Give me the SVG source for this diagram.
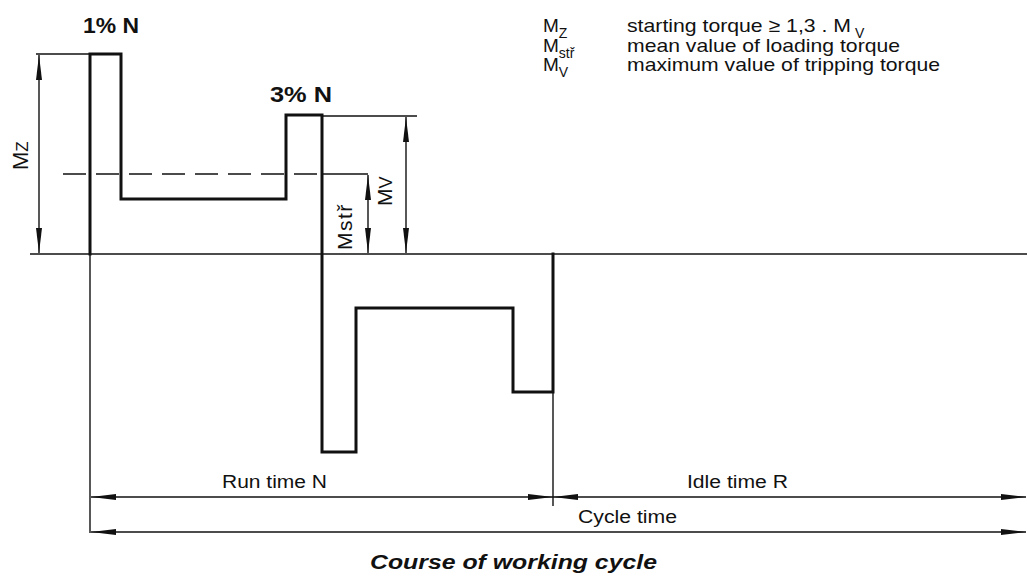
<svg xmlns="http://www.w3.org/2000/svg" width="1027" height="582" viewBox="0 0 1027 582">
  <style>
    .bg { fill: #ffffff; }
    .thick { fill: none; stroke: #111; stroke-width: 3; stroke-linejoin: miter; stroke-linecap: square; }
    .thin { fill: none; stroke: #111; stroke-width: 1.4; }
    .dash { fill: none; stroke: #111; stroke-width: 1.4; stroke-dasharray: 23 10; }
    .dim { fill: none; stroke: #111; stroke-width: 1.4; marker-start: url(#arr); marker-end: url(#arr); }
    .txt { font-family: "Liberation Sans", Arial, Helvetica, sans-serif; fill: #111; }
    .hand { font-family: "Liberation Sans", Arial, Helvetica, sans-serif; fill: #111; }
    .handb { font-family: "Liberation Sans", Arial, Helvetica, sans-serif; font-weight: bold; fill: #111; }
    .cap { font-family: "Liberation Sans", Arial, Helvetica, sans-serif; font-weight: bold; font-style: italic; fill: #111; }
  </style>
  <defs>
    <marker id="arr" markerUnits="userSpaceOnUse" markerWidth="26" markerHeight="8" viewBox="0 0 26 8" refX="25" refY="4" orient="auto-start-reverse">
      <path d="M0,1 L25,4 L0,7 z" fill="#111"/>
    </marker>
  </defs>
  <rect class="bg" x="0" y="0" width="1027" height="582"/>

  <!-- waveform -->
  <g id="waveform">
    <line class="thin" x1="30" y1="254" x2="1027" y2="254"/>
    <path class="thick" d="M90,254 L90,54 L121,54 L121,199 L286,199 L286,115 L322,115 L322,452 L356,452 L356,308 L513,308 L513,392 L553,392 L553,254"/>
    <line class="thin" x1="90" y1="254" x2="90" y2="533"/>
    <line class="thin" x1="553" y1="392" x2="553" y2="506"/>
  </g>

  <!-- connectors: dimension and extension lines -->
  <g id="connectors">
    <line class="thin" x1="36" y1="54" x2="90" y2="54"/>
    <line class="dim" x1="39" y1="55" x2="39" y2="253"/>
    <line class="dash" x1="63" y1="174" x2="322" y2="174"/>
    <line class="thin" x1="322" y1="174" x2="368" y2="174"/>
    <line class="dim" x1="368" y1="175" x2="368" y2="253"/>
    <line class="thin" x1="322" y1="116" x2="417" y2="116"/>
    <line class="dim" x1="406" y1="117" x2="406" y2="253"/>
    <line class="dim" x1="91" y1="497" x2="553" y2="497"/>
    <line class="dim" x1="553" y1="497" x2="1026" y2="497"/>
    <line class="dim" x1="91" y1="532" x2="1026" y2="532"/>
  </g>

  <!-- hand-lettered labels -->
  <g id="label-1pct">
    <text class="handb" x="83" y="33" font-size="22" textLength="56" lengthAdjust="spacingAndGlyphs">1% N</text>
  </g>
  <g id="label-3pct">
    <text class="handb" x="270" y="102" font-size="22" textLength="62" lengthAdjust="spacingAndGlyphs">3% N</text>
  </g>
  <g id="label-mz">
    <text class="hand" transform="translate(28,170) rotate(-90)" font-size="22">M<tspan font-size="17">Z</tspan></text>
  </g>
  <g id="label-mstr">
    <text class="hand" transform="translate(352,250) rotate(-90)" font-size="21" letter-spacing="1.5">Mstř</text>
  </g>
  <g id="label-mv">
    <text class="hand" transform="translate(392,206) rotate(-90)" font-size="21">M<tspan font-size="18">V</tspan></text>
  </g>

  <!-- time labels -->
  <g id="label-run">
    <text class="txt" x="222" y="488" font-size="18" textLength="105" lengthAdjust="spacingAndGlyphs">Run time N</text>
  </g>
  <g id="label-idle">
    <text class="txt" x="687" y="488" font-size="18" textLength="101" lengthAdjust="spacingAndGlyphs">Idle time R</text>
  </g>
  <g id="label-cycle">
    <text class="txt" x="578" y="523" font-size="18" textLength="99" lengthAdjust="spacingAndGlyphs">Cycle time</text>
  </g>

  <!-- legend -->
  <g id="legend">
    <text class="txt" x="543" y="32" font-size="19">M<tspan dy="6" font-size="14">Z</tspan></text>
    <text class="txt" x="627" y="32" font-size="19" textLength="224" lengthAdjust="spacingAndGlyphs">starting torque ≥ 1,3 . M</text>
    <text class="txt" x="855" y="38" font-size="14">V</text>

    <text class="txt" x="543" y="52" font-size="19">M<tspan dy="6" font-size="14">stř</tspan></text>
    <text class="txt" x="627" y="52" font-size="19" textLength="273" lengthAdjust="spacingAndGlyphs">mean value of loading torque</text>

    <text class="txt" x="543" y="71" font-size="19">M<tspan dy="6" font-size="14">V</tspan></text>
    <text class="txt" x="627" y="71" font-size="19" textLength="313" lengthAdjust="spacingAndGlyphs">maximum value of tripping torque</text>
  </g>

  <!-- caption -->
  <g id="caption">
    <text class="cap" x="370" y="569" font-size="20" textLength="287" lengthAdjust="spacingAndGlyphs">Course of working cycle</text>
  </g>
</svg>
